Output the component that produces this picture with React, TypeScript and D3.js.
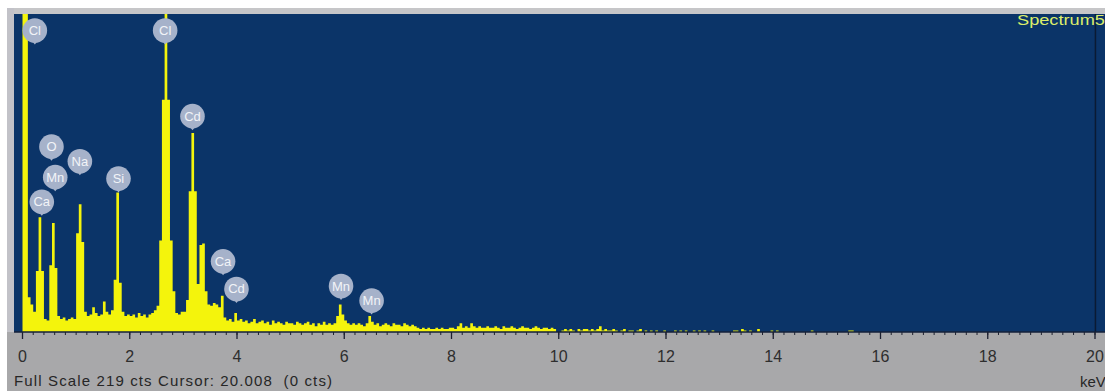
import * as d3 from "d3";

// EDS spectrum, 0.05 keV per channel, one row = 1 keV
const CHANNEL_KEV = 0.05;
const counts: number[] = [
  300, 300, 24, 19, 14, 42, 79, 42, 9, 8, 46, 75, 44, 11, 9, 10, 8, 9, 10, 9,
  68, 88, 62, 14, 11, 12, 17, 13, 11, 12, 21, 14, 12, 15, 36, 96, 34, 14, 11, 12,
  11, 12, 10, 13, 11, 12, 10, 12, 13, 15, 18, 63, 160, 300, 160, 63, 28, 13, 12, 14,
  14, 22, 97, 137, 97, 33, 60, 61, 28, 19, 18, 20, 19, 17, 25, 10, 8, 9, 7, 13,
  8, 9, 7, 8, 6, 7, 9, 6, 7, 8, 6, 7, 5, 8, 6, 7, 6, 5, 7, 6,
  6, 5, 7, 6, 5, 6, 7, 5, 6, 4, 6, 5, 7, 5, 6, 5, 6, 11, 19, 12,
  8, 6, 5, 6, 5, 6, 5, 4, 6, 11, 7, 5, 6, 4, 5, 6, 5, 4, 6, 5,
  5, 4, 6, 5, 4, 5, 4, 3, 2, 3, 2, 3, 2, 2, 3, 2, 3, 2, 2, 3,
  3, 2, 4, 6, 3, 4, 3, 6, 4, 3, 4, 3, 3, 4, 3, 3, 4, 3, 2, 4,
  3, 3, 4, 3, 2, 3, 4, 3, 3, 2, 3, 4, 3, 2, 3, 3, 2, 3, 2, 0,
  0, 1, 2, 1, 2, 1, 0, 2, 1, 2, 2, 1, 2, 1, 2, 4, 1, 2, 1, 1,
  2, 1, 0, 1, 2, 0, 1, 1, 0, 1, 2, 0, 1, 0, 1, 0, 1, 0, 0, 1,
  0, 0, 0, 1, 0, 1, 0, 1, 0, 0, 1, 0, 1, 0, 1, 0, 0, 1, 0, 0,
  0, 0, 0, 0, 0, 1, 1, 0, 2, 1, 0, 1, 0, 0, 2, 0, 0, 0, 0, 1,
  0, 1, 0, 0, 0, 0, 0, 0, 0, 0, 0, 0, 0, 0, 1, 0, 0, 0, 0, 0,
  0, 0, 0, 0, 0, 0, 0, 0, 1, 1, 0, 0, 0, 0, 0, 0, 0, 0, 0, 0,
];

// peak labels: element, energy (keV), count level of the label tip
const peakNames = ["Cl", "Cl", "Cd", "O", "Na", "Mn", "Ca", "Si", "Ca", "Cd", "Mn", "Mn"];
const peakKeV = [0.23, 2.66, 3.17, 0.54, 1.07, 0.61, 0.36, 1.79, 3.74, 3.99, 5.94, 6.51];
const peakCts = [198, 198, 139, 118, 108, 97, 80, 96, 39, 20, 22, 12];

const majorTicks = [0, 2, 4, 6, 8, 10, 12, 14, 16, 18, 20];
const fullScale = 219;
const cursorKeV = 20.008;
const spectrumName = "Spectrum5";

const W = 1105;
const H = 391;
const plot = { left: 14, top: 14, right: 1105, bottom: 332 };

export default function App() {
  const x = d3.scaleLinear().domain([0, 20]).range([22.5, 1095]);
  const y = d3.scaleLinear().domain([0, fullScale]).range([plot.bottom, plot.top]);

  const pts: [number, number][] = counts.map((c, i) => [i * CHANNEL_KEV, c]);
  pts.push([counts.length * CHANNEL_KEV, 0]);

  const area = d3
    .area<[number, number]>()
    .x(d => x(d[0]))
    .y0(y(0))
    .y1(d => y(d[1]))
    .curve(d3.curveStepAfter);

  const minorTicks = x.ticks(100);

  return (
    <svg
      width={W}
      height={H}
      style={{ position: "absolute", left: 0, top: 0, display: "block" }}
      fontFamily="'Liberation Sans', Arial, sans-serif"
    >
      <defs>
        <clipPath id="plotClip">
          <rect x={plot.left} y={plot.top} width={plot.right - plot.left} height={plot.bottom - plot.top} />
        </clipPath>
        <filter id="soft" x="-30%" y="-30%" width="160%" height="160%">
          <feGaussianBlur stdDeviation={0.7} />
        </filter>
      </defs>
      <rect width={W} height={H} fill="#ffffff" />
      <rect x={7} y={8} width={W - 7} height={H - 8} fill="#a8a8aa" />
      <rect x={7} y={8} width={W - 7} height={6} fill="#c6c6c8" />
      <rect x={7} y={8} width={7} height={plot.bottom - 8} fill="#c2c2c8" />
      <rect
        x={plot.left}
        y={plot.top}
        width={plot.right - plot.left}
        height={plot.bottom - plot.top}
        fill="#0b3468"
      />

      <g clipPath="url(#plotClip)">
        <path d={area(pts) ?? ""} fill="#f4f40c" />
        <line
          x1={x(cursorKeV)}
          x2={x(cursorKeV)}
          y1={plot.top}
          y2={plot.bottom}
          stroke="#0a1a33"
          strokeWidth={1.5}
        />
      </g>

      <line x1={plot.left} x2={plot.right} y1={plot.bottom} y2={plot.bottom} stroke="#14213a" strokeWidth={1.5} />
      {minorTicks.map(t => (
        <line key={"m" + t} x1={x(t)} x2={x(t)} y1={plot.bottom} y2={plot.bottom + 3} stroke="#1c2030" />
      ))}
      {majorTicks.map(t => (
        <g key={"t" + t}>
          <line x1={x(t)} x2={x(t)} y1={plot.bottom} y2={plot.bottom + 7} stroke="#1c2030" strokeWidth={1.3} />
          <text x={x(t)} y={362} textAnchor="middle" fontSize={16} fill="#2e2e2e">
            {t}
          </text>
        </g>
      ))}

      {peakNames.map((name, i) => {
        const cx = x(peakKeV[i]);
        const tip = y(peakCts[i]);
        const cy = tip - 14;
        return (
          <g key={"p" + i}>
            <g filter="url(#soft)">
              <path d={`M${cx - 4},${cy + 9} L${cx + 4},${cy + 9} L${cx},${tip} Z`} fill="#a9b5cc" />
              <circle cx={cx} cy={cy} r={12.3} fill="#a6b2ca" />
            </g>
            <text x={cx} y={cy + 4.5} textAnchor="middle" fontSize={13} fill="#f2f4f8">
              {name}
            </text>
          </g>
        );
      })}

      <text x={1017} y={25} fontSize={15} fill="#dcee6a" textLength={88} lengthAdjust="spacingAndGlyphs">
        {spectrumName}
      </text>
      <text
        x={14}
        y={386}
        fontSize={15}
        fill="#262626"
        style={{ whiteSpace: "pre" }}
        textLength={318}
        lengthAdjust="spacing"
      >
        {`Full Scale ${fullScale} cts Cursor: ${cursorKeV.toFixed(3)}  (0 cts)`}
      </text>
      <text x={1080} y={387} fontSize={15} fill="#262626">
        keV
      </text>
    </svg>
  );
}
